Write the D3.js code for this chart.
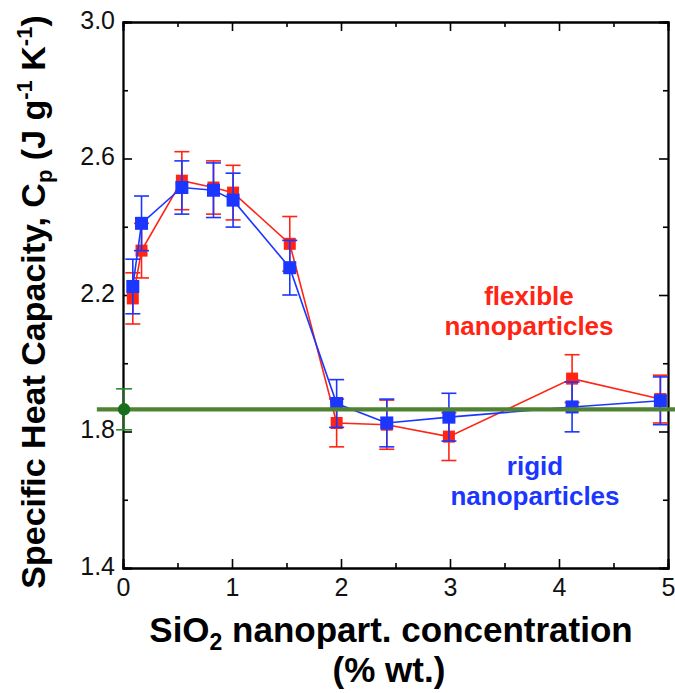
<!DOCTYPE html>
<html>
<head>
<meta charset="utf-8">
<script src="https://cdn.jsdelivr.net/npm/d3@7"></script>
<style>
  body { margin: 0; background: #fff; }
  text { font-family: "Liberation Sans", Arial, Helvetica, sans-serif; }
</style>
</head>
<body>
<div id="chart"></div>
<script>
const width = 675
const height = 693
const margin = { top: 22, bottom: 125, left: 123, right: 7 }

// data
const conc = [0.09, 0.17, 0.54, 0.83, 1.01, 1.53, 1.96, 2.42, 2.99, 4.12, 4.93]
const cpFlexible = [2.19, 2.33, 2.535, 2.515, 2.50, 2.35, 1.825, 1.82, 1.785, 1.955, 1.895]
const errFlexible = [0.075, 0.08, 0.085, 0.078, 0.08, 0.08, 0.07, 0.072, 0.07, 0.07, 0.07]
const cpRigid = [2.225, 2.41, 2.515, 2.507, 2.478, 2.28, 1.882, 1.825, 1.842, 1.872, 1.89]
const errRigid = [0.08, 0.08, 0.078, 0.08, 0.079, 0.08, 0.07, 0.07, 0.07, 0.073, 0.07]
const baseConc = [0.01]
const baseCp = [1.865]
const baseErr = [0.06]
const baseLineX = [-0.24, 5.1]

const xMajor = [0, 1, 2, 3, 4, 5]
const xMinor = [0.5, 1.5, 2.5, 3.5, 4.5]
const yMajor = [1.4, 1.8, 2.2, 2.6, 3.0]
const yMinor = [1.6, 2.0, 2.4, 2.8]

const red = "#ff2414"
const blue = "#1a36ff"

const svg = d3.select("#chart").append("svg").attr("width", width).attr("height", height)
const w = width - margin.left - margin.right
const h = height - margin.top - margin.bottom
const g = svg.append("g").attr("transform", `translate(${margin.left}, ${margin.top})`)

const x = d3.scaleLinear().domain([0, 5]).range([0, w])
const y = d3.scaleLinear().domain([1.4, 3.0]).range([h, 0])

// axes, ticks pointing inside
const axes = g.append("g")
axes.append("g").attr("transform", `translate(0, ${h})`)
    .call(d3.axisBottom(x).tickValues(xMajor).tickSize(-9).tickPadding(10).tickFormat(d3.format("d")))
axes.append("g").attr("transform", `translate(0, ${h})`)
    .call(d3.axisBottom(x).tickValues(xMinor).tickSize(-5).tickFormat(""))
axes.append("g")
    .call(d3.axisTop(x).tickValues(xMajor).tickSize(-9).tickFormat(""))
axes.append("g")
    .call(d3.axisTop(x).tickValues(xMinor).tickSize(-5).tickFormat(""))
axes.append("g")
    .call(d3.axisLeft(y).tickValues(yMajor).tickSize(-9).tickPadding(8).tickFormat(d3.format(".1f")))
axes.append("g")
    .call(d3.axisLeft(y).tickValues(yMinor).tickSize(-5).tickFormat(""))
axes.append("g").attr("transform", `translate(${w}, 0)`)
    .call(d3.axisRight(y).tickValues(yMajor).tickSize(-9).tickFormat(""))
axes.append("g").attr("transform", `translate(${w}, 0)`)
    .call(d3.axisRight(y).tickValues(yMinor).tickSize(-5).tickFormat(""))

axes.selectAll(".domain").attr("stroke", "#000").attr("stroke-width", 1.8)
axes.selectAll(".tick line").attr("stroke", "#000").attr("stroke-width", 1.6)
axes.selectAll(".tick text")
    .attr("font-size", 25).attr("fill", "#111")
    .style("font-family", "'Liberation Sans', Arial, sans-serif")
axes.selectAll(".tick text").filter(function () { return this.getAttribute("dy") === "0.32em" }).attr("dy", "0.24em")

function drawSeries(cp, err, color, size) {
    const pts = conc.map((c, i) => ({ x: c, y: cp[i], e: err[i] }))
    const s = g.append("g")
    s.append("path").datum(pts)
        .attr("fill", "none").attr("stroke", color).attr("stroke-width", 1.6)
        .attr("d", d3.line().x(d => x(d.x)).y(d => y(d.y)))
    const eb = s.selectAll(".err").data(pts).enter().append("g")
        .attr("stroke", color).attr("stroke-width", 1.6)
    eb.append("line").attr("x1", d => x(d.x)).attr("x2", d => x(d.x))
        .attr("y1", d => y(d.y - d.e)).attr("y2", d => y(d.y + d.e))
    eb.append("line").attr("x1", d => x(d.x) - 7.5).attr("x2", d => x(d.x) + 7.5)
        .attr("y1", d => y(d.y + d.e)).attr("y2", d => y(d.y + d.e))
    eb.append("line").attr("x1", d => x(d.x) - 7.5).attr("x2", d => x(d.x) + 7.5)
        .attr("y1", d => y(d.y - d.e)).attr("y2", d => y(d.y - d.e))
    s.selectAll("rect").data(pts).enter().append("rect")
        .attr("x", d => x(d.x) - size / 2).attr("y", d => y(d.y) - size / 2)
        .attr("width", size).attr("height", size).attr("fill", color)
}

drawSeries(cpFlexible, errFlexible, red, 12)
drawSeries(cpRigid, errRigid, blue, 13)

// base fluid
const base = g.append("g")
base.append("line")
    .attr("x1", x(baseLineX[0])).attr("x2", x(baseLineX[1]))
    .attr("y1", y(baseCp[0])).attr("y2", y(baseCp[0]))
    .attr("stroke", "#4f8232").attr("stroke-width", 4.3)
const bp = base.selectAll(".bp").data(baseConc.map((c, i) => ({ x: c, y: baseCp[i], e: baseErr[i] }))).enter().append("g")
bp.append("line").attr("x1", d => x(d.x)).attr("x2", d => x(d.x))
    .attr("y1", d => y(d.y - d.e)).attr("y2", d => y(d.y + d.e)).attr("stroke", "#2a8a2a").attr("stroke-width", 1.6)
bp.append("line").attr("x1", d => x(d.x) - 8).attr("x2", d => x(d.x) + 8)
    .attr("y1", d => y(d.y + d.e)).attr("y2", d => y(d.y + d.e)).attr("stroke", "#2a8a2a").attr("stroke-width", 1.6)
bp.append("line").attr("x1", d => x(d.x) - 8).attr("x2", d => x(d.x) + 8)
    .attr("y1", d => y(d.y - d.e)).attr("y2", d => y(d.y - d.e)).attr("stroke", "#2a8a2a").attr("stroke-width", 1.6)
bp.append("circle").attr("cx", d => x(d.x)).attr("cy", d => y(d.y)).attr("r", 6.2).attr("fill", "#176f1c")

// series labels
const lab = svg.append("g").attr("font-weight", "bold").attr("font-size", 26).attr("text-anchor", "middle")
lab.append("text").attr("x", 529).attr("y", 305).attr("fill", red).text("flexible")
lab.append("text").attr("x", 529).attr("y", 335).attr("fill", red).text("nanoparticles")
lab.append("text").attr("x", 535).attr("y", 475).attr("fill", blue).text("rigid")
lab.append("text").attr("x", 535).attr("y", 505).attr("fill", blue).text("nanoparticles")

// axis titles
const xt = svg.append("text").attr("x", 391).attr("y", 642).attr("text-anchor", "middle")
    .attr("font-weight", "bold").attr("font-size", 35).attr("fill", "#000")
xt.append("tspan").text("SiO")
xt.append("tspan").attr("font-size", 23).attr("dy", 8).text("2")
xt.append("tspan").attr("dy", -8).text(" nanopart. concentration")
svg.append("text").attr("x", 389).attr("y", 682).attr("text-anchor", "middle")
    .attr("font-weight", "bold").attr("font-size", 35).attr("fill", "#000").text("(% wt.)")

const yt = svg.append("text").attr("transform", "translate(45, 302) rotate(-90)").attr("text-anchor", "middle")
    .attr("font-weight", "bold").attr("font-size", 34).attr("fill", "#000")
yt.append("tspan").text("Specific Heat Capacity, C")
yt.append("tspan").attr("font-size", 22).attr("dy", 7).text("p")
yt.append("tspan").attr("dy", -7).text(" (J g")
yt.append("tspan").attr("font-size", 22).attr("dy", -13).text("-1")
yt.append("tspan").attr("dy", 13).text(" K")
yt.append("tspan").attr("font-size", 22).attr("dy", -13).text("-1")
yt.append("tspan").attr("dy", 13).text(")")
</script>
</body>
</html>
